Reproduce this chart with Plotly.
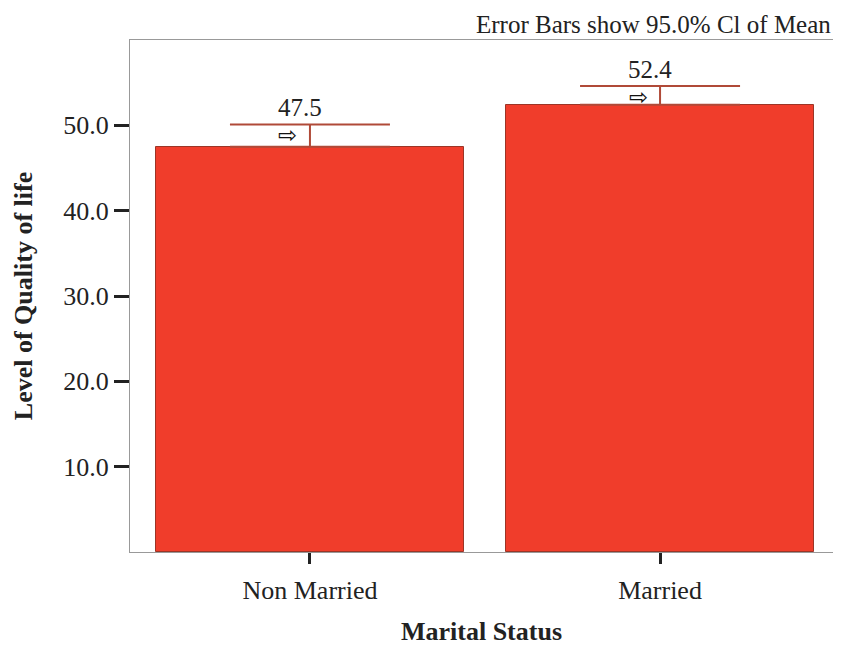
import plotly.graph_objects as go

categories = ["Non Married", "Married"]
means = [47.5, 52.4]
ci_upper = [50.1, 54.6]
y_ticks = [10, 20, 30, 40, 50]
y_tick_labels = ["10.0", "20.0", "30.0", "40.0", "50.0"]
note = "Error Bars show 95.0% Cl of Mean"

serif = "Liberation Serif, Times New Roman, serif"
bar_red = "#f03d2b"
err_col = "#b04a38"

fig = go.Figure()
fig.add_trace(
    go.Bar(
        x=[0, 1],
        y=means,
        width=0.88,
        marker=dict(color=bar_red, line=dict(color="#9c3526", width=1)),
        error_y=dict(
            type="data",
            symmetric=False,
            array=[u - m for u, m in zip(ci_upper, means)],
            arrayminus=[0, 0],
            color=err_col,
            thickness=2,
            width=80,
        ),
        hovertemplate="%{y:.1f}<extra></extra>",
    )
)

for i, (m, u) in enumerate(zip(means, ci_upper)):
    fig.add_annotation(
        x=i, y=u, text=f"{m:.1f}", showarrow=False,
        yanchor="bottom", xshift=-10, yshift=1,
        font=dict(family=serif, size=25, color="#222"),
    )
    fig.add_annotation(
        x=i, y=u, text="⇨", showarrow=False,
        yanchor="top", xshift=-22, yshift=4,
        font=dict(family="DejaVu Sans", size=23, color="#111"),
    )

fig.add_annotation(
    xref="paper", yref="paper", x=1.0, y=1.0, yshift=0,
    xanchor="right", yanchor="bottom", text=note, showarrow=False,
    font=dict(family=serif, size=25, color="#222"),
)

# page body adds an 8px offset, so the figure is sized to the visible area
fig.update_layout(
    width=825,
    height=638,
    margin=dict(l=122, r=0, t=32, b=94, autoexpand=False),
    paper_bgcolor="white",
    plot_bgcolor="white",
    showlegend=False,
    bargap=0,
    xaxis=dict(
        range=[-0.514, 1.494],
        tickvals=[0, 1],
        ticktext=categories,
        ticks="outside",
        ticklen=11,
        tickwidth=3,
        tickcolor="#222",
        ticklabelstandoff=4,
        showgrid=False,
        zeroline=False,
        showline=True,
        linecolor="#999",
        mirror=True,
        automargin=False,
        tickfont=dict(family=serif, size=26, color="#222"),
        title=dict(text="<b>Marital Status</b>", font=dict(family=serif, size=26, color="#222"), standoff=24),
    ),
    yaxis=dict(
        range=[0, 60],
        tickvals=y_ticks,
        ticktext=y_tick_labels,
        ticks="outside",
        ticklen=15,
        tickwidth=3,
        tickcolor="#222",
        showgrid=False,
        zeroline=False,
        showline=True,
        linecolor="#999",
        mirror=True,
        automargin=False,
        tickfont=dict(family=serif, size=26, color="#222"),
        title=dict(text="<b>Level of Quality of life</b>", font=dict(family=serif, size=26, color="#222"), standoff=23),
    ),
)

fig.write_html("out.html")
